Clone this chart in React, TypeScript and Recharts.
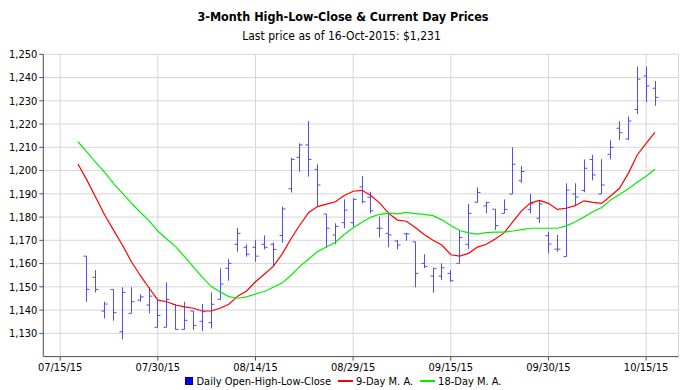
import React from 'react';
import { ComposedChart, Bar, Line, XAxis, YAxis, CartesianGrid } from 'recharts';

// OHLC values, one per trading day (index 0..64)
const opens = [
  1163.2, 1154.1, 1139.6, 1148.9, 1130.7, 1138.6, 1144.3, 1142.2, 1132.6, 1132.6,
  1142.5, 1131.7, 1139.6, 1135.2, 1134.6, 1144.6, 1158.0, 1168.3, 1167.0, 1167.0,
  1168.3, 1168.3, 1172.1, 1192.2, 1205.7, 1211.0, 1200.5, 1181.3, 1172.3, 1177.6,
  1177.6, 1193.0, 1188.5, 1175.2, 1173.0, 1169.7, 1172.8, 1169.4, 1160.1, 1154.6,
  1154.6, 1155.8, 1160.1, 1168.3, 1186.4, 1184.8, 1183.4, 1181.6, 1189.9, 1195.6,
  1183.3, 1179.5, 1172.0, 1166.2, 1163.0, 1189.9, 1191.4, 1204.8, 1189.9, 1207.0,
  1218.2, 1213.6, 1226.3, 1240.7, 1235.4,
];
const highs = [
  1163.2, 1157.2, 1143.6, 1148.9, 1149.8, 1149.8, 1146.8, 1149.8, 1144.3, 1151.9,
  1142.5, 1143.6, 1139.6, 1142.6, 1147.6, 1158.0, 1162.0, 1175.3, 1168.3, 1170.1,
  1172.1, 1169.1, 1184.5, 1205.5, 1211.7, 1221.3, 1202.7, 1181.3, 1177.3, 1187.6,
  1188.1, 1197.7, 1190.9, 1180.2, 1181.3, 1170.1, 1173.3, 1169.4, 1164.0, 1158.0,
  1160.1, 1157.2, 1174.4, 1185.6, 1192.8, 1186.6, 1183.4, 1187.6, 1210.0, 1202.0,
  1189.9, 1187.3, 1173.7, 1172.3, 1194.5, 1194.5, 1204.8, 1206.8, 1204.9, 1213.0,
  1221.3, 1223.3, 1244.7, 1244.7, 1238.5,
];
const lows = [
  1143.6, 1147.6, 1136.4, 1135.4, 1127.4, 1138.6, 1143.6, 1138.6, 1132.6, 1132.6,
  1131.7, 1131.7, 1131.4, 1131.0, 1132.1, 1144.6, 1152.6, 1165.1, 1163.0, 1160.8,
  1166.1, 1158.6, 1169.0, 1190.6, 1199.5, 1197.4, 1184.5, 1166.8, 1168.3, 1175.2,
  1175.9, 1185.9, 1181.6, 1171.3, 1167.0, 1166.1, 1169.8, 1149.8, 1158.0, 1147.5,
  1152.9, 1152.2, 1160.1, 1166.2, 1186.2, 1181.6, 1174.4, 1181.6, 1189.9, 1194.8,
  1181.6, 1177.5, 1164.4, 1165.1, 1163.0, 1184.8, 1190.7, 1195.8, 1189.9, 1204.9,
  1213.1, 1213.1, 1224.3, 1229.4, 1227.9,
];
const closes = [
  1148.9, 1148.9, 1142.6, 1138.9, 1147.6, 1143.6, 1145.7, 1146.0, 1137.7, 1144.5,
  1131.7, 1135.6, 1133.4, 1139.3, 1142.5, 1151.2, 1160.1, 1173.0, 1164.0, 1163.2,
  1167.0, 1166.1, 1183.5, 1204.8, 1211.0, 1204.8, 1193.8, 1175.2, 1176.0, 1183.0,
  1187.6, 1186.6, 1182.7, 1175.2, 1172.3, 1168.0, 1172.8, 1155.8, 1158.8, 1158.0,
  1158.2, 1152.6, 1171.3, 1181.6, 1190.6, 1186.2, 1176.3, 1183.3, 1202.7, 1199.6,
  1185.7, 1185.6, 1168.4, 1166.2, 1191.6, 1188.6, 1201.0, 1198.1, 1193.8, 1210.0,
  1216.3, 1221.3, 1239.3, 1236.4, 1231.5,
];

// Moving averages, index -1..64
const ma9 = [
  1202.8, 1196.0, 1188.5, 1181.0, 1174.5, 1168.0, 1161.0, 1155.0, 1149.6, 1144.3,
  1143.6, 1142.2, 1141.4, 1140.8, 1139.6, 1139.6, 1140.8, 1142.5, 1146.0, 1148.2,
  1152.2, 1155.4, 1158.8, 1164.1, 1170.7, 1176.6, 1182.0, 1184.5, 1185.6, 1186.6,
  1189.3, 1191.1, 1191.5, 1189.3, 1186.0, 1181.6, 1178.7, 1178.2, 1175.5, 1172.5,
  1170.0, 1168.0, 1163.8, 1163.2, 1164.4, 1167.1, 1168.3, 1170.6, 1173.2, 1178.0,
  1182.8, 1186.1, 1187.2, 1185.9, 1183.3, 1183.8, 1184.9, 1187.0, 1186.3, 1185.9,
  1189.1, 1192.4, 1198.8, 1206.7, 1211.7, 1216.4,
];
const ma18 = [
  1212.4, 1208.0, 1203.5, 1199.3, 1194.5, 1190.3, 1186.1, 1182.2, 1178.5, 1174.0,
  1170.6, 1167.3, 1163.0, 1158.6, 1154.2, 1150.2, 1147.9, 1145.8, 1145.1, 1145.7,
  1146.9, 1148.0, 1149.8, 1151.6, 1155.0, 1158.8, 1162.0, 1165.2, 1167.1, 1169.2,
  1172.5, 1175.4, 1177.8, 1180.0, 1181.2, 1181.7, 1181.4, 1182.0, 1181.5, 1181.2,
  1180.6, 1178.8, 1176.4, 1174.2, 1173.2, 1172.7, 1173.3, 1173.5, 1173.5, 1174.0,
  1174.6, 1175.2, 1175.2, 1175.2, 1175.2, 1176.2, 1177.9, 1180.0, 1182.3, 1184.1,
  1187.4, 1189.7, 1192.2, 1195.0, 1197.6, 1200.6,
];

const tickIndex = [-3, 8, 19, 30, 41, 52, 63];
const tickLabels = ['07/15/15', '07/30/15', '08/14/15', '08/29/15', '09/15/15', '09/30/15', '10/15/15'];
const yTicks = [1130, 1140, 1150, 1160, 1170, 1180, 1190, 1200, 1210, 1220, 1230, 1240, 1250];

const data = ma9.map((m, k) => {
  const i = k - 1;
  const row: any = { i, ma9: m, ma18: ma18[k] };
  if (i >= 0) {
    row.range = [lows[i], highs[i]];
    row.open = opens[i];
    row.close = closes[i];
    row.high = highs[i];
    row.low = lows[i];
  }
  return row;
});

const FONT = "'DejaVu Sans Condensed', 'DejaVu Sans', sans-serif";

const OHLCShape = (props: any) => {
  const { x, y, width, height, payload } = props;
  if (!payload || payload.high == null || x == null) return <g />;
  const top = Math.min(y, y + height);
  const h = Math.abs(height);
  const cx = Math.round(x + width / 2) + 0.5;
  const k = payload.high === payload.low ? 0 : h / (payload.high - payload.low);
  const yo = top + (payload.high - payload.open) * k;
  const yc = top + (payload.high - payload.close) * k;
  return (
    <g stroke="#4d4dff" strokeWidth={1} fill="none">
      <line x1={cx} y1={top} x2={cx} y2={top + h} />
      <line x1={cx - 3} y1={yo} x2={cx} y2={yo} />
      <line x1={cx} y1={yc} x2={cx + 3} y2={yc} />
    </g>
  );
};

const fmtY = (v: number) => v.toLocaleString('en-US');
const fmtX = (v: number) => {
  const idx = tickIndex.indexOf(v);
  return idx >= 0 ? tickLabels[idx] : '';
};

export default function App() {
  return (
    <div style={{ position: 'absolute', left: 0, top: 0, width: 700, height: 390, background: '#fff', fontFamily: FONT }}>
      <div style={{ position: 'absolute', left: 0, width: 686, top: 9, textAlign: 'center', fontSize: 12.5, fontWeight: 'bold', color: '#000', fontStretch: 'condensed' }}>
        3-Month High-Low-Close &amp; Current Day Prices
      </div>
      <div style={{ position: 'absolute', left: 0, width: 683, top: 29, textAlign: 'center', fontSize: 12, color: '#000', fontStretch: 'condensed' }}>
        Last price as of 16-Oct-2015: $1,231
      </div>
      <ComposedChart
        width={700}
        height={390}
        data={data}
        margin={{ top: 54.3, right: 21.5, bottom: 0, left: 0 }}
      >
        <CartesianGrid stroke="#d6d6d6" strokeWidth={1} />
        <XAxis
          dataKey="i"
          type="number"
          domain={[-4.9, 66.65]}
          allowDataOverflow
          ticks={tickIndex}
          tickFormatter={fmtX}
          interval={0}
          height={33.4}
          stroke="#555"
          tickSize={4}
          tickMargin={3}
          tick={{ fill: '#000', fontSize: 11, fontFamily: FONT }}
        />
        <XAxis xAxisId="top" orientation="top" dataKey="i" type="number" domain={[-4.9, 66.65]} allowDataOverflow height={0} tick={false} tickLine={false} stroke="#888" />
        <YAxis
          domain={[1120, 1250]}
          ticks={yTicks}
          tickFormatter={fmtY}
          width={43.3}
          stroke="#555"
          tickSize={4}
          tickMargin={2}
          interval={0}
          tick={{ fill: '#000', fontSize: 11, fontFamily: FONT }}
        />
        <YAxis yAxisId="right" orientation="right" domain={[1120, 1250]} width={0} tick={false} tickLine={false} stroke="#888" />
        <Bar dataKey="range" barSize={6} shape={<OHLCShape />} isAnimationActive={false} />
        <Line dataKey="ma9" type="linear" stroke="#ff0000" strokeWidth={1.2} dot={false} isAnimationActive={false} />
        <Line dataKey="ma18" type="linear" stroke="#00ee00" strokeWidth={1.2} dot={false} isAnimationActive={false} />
      </ComposedChart>
      <div style={{ position: 'absolute', left: 0, width: 686, top: 375.5, height: 11, lineHeight: '11px', display: 'flex', justifyContent: 'center', alignItems: 'center', fontSize: 11, color: '#000', fontStretch: 'condensed', whiteSpace: 'nowrap' }}>
        <span style={{ display: 'inline-block', width: 6, height: 6, background: '#0000ff', border: '1px solid #000080', marginRight: 4 }} />
        <span>Daily Open-High-Low-Close</span>
        <span style={{ display: 'inline-block', width: 15, height: 2, background: '#ff0000', marginLeft: 7, marginRight: 3 }} />
        <span>9-Day M. A.</span>
        <span style={{ display: 'inline-block', width: 15, height: 2, background: '#00ee00', marginLeft: 7, marginRight: 3 }} />
        <span>18-Day M. A.</span>
      </div>
    </div>
  );
}
